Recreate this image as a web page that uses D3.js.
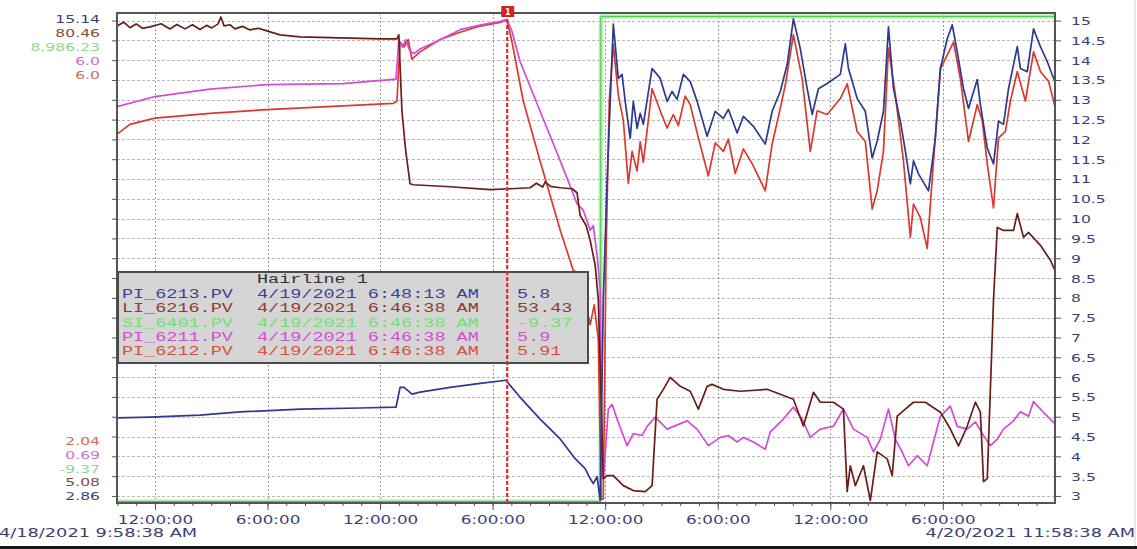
<!DOCTYPE html>
<meta charset="utf-8">
<style>
body { margin: 0; background: #fff; }
svg { display: block; }
.grid line { stroke: #b9b9b9; stroke-dasharray: 3,2; shape-rendering: crispEdges; }
.vgrid line { stroke: #9a9a9a; stroke-dasharray: 2,2; shape-rendering: crispEdges; }
.grid path, .vgrid path { display: none; }
.axis path { display: none; }
.axis line { stroke: #555; }
.axis text { font-family: "DejaVu Sans", sans-serif; fill: #3d4078; }
.trend { fill: none; stroke-width: 1.7; stroke-linejoin: round; }
.box text { font-family: "Liberation Mono", monospace; font-size: 12.5px; }
</style>
<body>
<script src="https://cdn.jsdelivr.net/npm/d3@7"></script>
<script>

// pens shown in the trend
var tags = ["PI_6213.PV", "LI_6216.PV", "SI_6401.PV", "PI_6211.PV", "PI_6212.PV"];
var colors = ["#2d3a8f", "#6b1d17", "#6fdc6f", "#d44bd4", "#da3a2e"];
var textColors = ["#3c3f9a", "#8e3b2e", "#6ee06e", "#cf4fcf", "#d8503f"];
var scaleMin = [2.86, 5.08, -9.37, 0.69, 2.04];
var scaleMax = [15.14, 80.46, 8986.23, 6.0, 6.0];
var minLabels = ["2.86", "5.08", "-9.37", "0.69", "2.04"];
var maxLabels = ["15.14", "80.46", "8,986.23", "6.0", "6.0"];
var leftColors = ["#3d3f7a", "#8b4a40", "#8ed88e", "#d070d0", "#d86a5a"];

// hairline readout
var hairTimes = ["4/19/2021 6:48:13 AM", "4/19/2021 6:46:38 AM", "4/19/2021 6:46:38 AM", "4/19/2021 6:46:38 AM", "4/19/2021 6:46:38 AM"];
var hairValues = ["5.8", "53.43", "-9.37", "5.9", "5.91"];
var hairAt = "2021-04-19 06:46:38";

var startTime = "2021-04-18 09:58:38";
var endTime = "2021-04-20 11:58:38";
var rightTicks = d3.range(3, 15.01, 0.5);

var pi6213 = [["18 09:59",4.97],["18 11:44",4.99],["18 14:24",5.04],["18 16:32",5.12],["18 19:44",5.19],["18 22:56",5.22],["19 00:51",5.24],["19 01:04",5.74],["19 01:17",5.74],["19 01:42",5.57],["19 02:08",5.62],["19 03:44",5.74],["19 05:20",5.84],["19 06:43",5.92],["19 06:56",5.79],["19 07:28",5.49],["19 08:32",4.94],["19 09:36",4.44],["19 10:24",3.94],["19 10:56",3.69],["19 11:12",3.44],["19 11:22",3.31],["19 11:34",3.49],["19 11:44",2.89],["19 11:54",7.95],["19 12:06",10.95],["19 12:26",14.91],["19 12:42",13.54],["19 12:54",13.64],["19 13:04",12.96],["19 13:20",12.03],["19 13:30",12.96],["19 13:42",12.28],["19 13:52",12.66],["19 14:02",12.38],["19 14:30",13.79],["19 14:56",13.54],["19 15:18",12.96],["19 15:34",13.21],["19 15:50",13.01],["19 16:10",13.64],["19 16:32",13.46],["19 16:54",12.96],["19 17:26",12.08],["19 17:52",12.71],["19 18:18",12.53],["19 18:34",12.76],["19 19:02",12.16],["19 19:22",12.58],["19 19:54",12.33],["19 20:32",11.88],["19 20:54",12.71],["19 21:20",13.21],["19 21:42",13.89],["19 22:02",15.04],["19 22:24",14.29],["19 22:46",13.28],["19 23:02",12.63],["19 23:22",13.28],["19 23:50",13.41],["20 00:32",13.64],["20 00:48",14.41],["20 00:58",13.79],["20 01:26",13.03],["20 01:52",12.71],["20 02:14",11.53],["20 02:30",11.96],["20 02:50",12.71],["20 03:06",14.84],["20 03:22",13.28],["20 03:44",12.46],["20 04:00",11.71],["20 04:16",10.88],["20 04:26",11.46],["20 04:42",11.13],["20 05:14",10.70],["20 05:36",12.03],["20 05:52",13.79],["20 06:14",14.54],["20 06:30",14.89],["20 06:46",14.21],["20 07:06",13.28],["20 07:22",12.78],["20 07:50",13.51],["20 08:00",12.88],["20 08:22",11.78],["20 08:42",11.38],["20 08:58",12.46],["20 09:14",12.38],["20 09:30",13.28],["20 09:58",14.34],["20 10:08",13.79],["20 10:30",13.71],["20 10:50",14.79],["20 11:12",14.34],["20 11:34",13.96],["20 11:58",13.46]];

var li6216 = [["18 09:59",78.77],["18 10:20",79.35],["18 10:40",78.50],["18 11:00",79.08],["18 11:20",78.40],["18 11:44",78.62],["18 12:20",79.10],["18 12:48",78.30],["18 13:10",79.00],["18 13:36",78.31],["18 14:00",78.95],["18 14:24",78.20],["18 14:45",78.85],["18 15:02",78.46],["18 15:22",79.08],["18 15:31",80.15],["18 15:41",78.77],["18 16:00",78.95],["18 16:16",78.31],["18 16:40",78.70],["18 17:04",78.15],["18 17:30",78.40],["18 17:58",78.00],["18 18:40",77.38],["18 19:44",77.08],["18 21:52",76.92],["19 00:00",76.77],["19 00:54",76.77],["19 01:00",77.38],["19 01:10",65.54],["19 01:22",59.39],["19 01:36",54.31],["19 01:46",54.16],["19 03:44",53.85],["19 05:52",53.39],["19 06:56",53.54],["19 08:00",53.69],["19 08:20",54.40],["19 08:40",53.80],["19 08:48",54.60],["19 09:05",53.90],["19 09:36",53.69],["19 10:14",53.54],["19 10:30",52.92],["19 10:40",49.39],["19 10:59",47.85],["19 11:12",45.54],["19 11:28",41.69],["19 11:38",36.31],["19 11:47",20.93],["19 11:54",8.62],["19 12:06",9.08],["19 12:26",9.08],["19 12:58",7.54],["19 13:30",6.77],["19 14:08",6.62],["19 14:30",7.54],["19 14:46",20.93],["19 15:06",22.46],["19 15:28",24.31],["19 16:00",22.92],["19 16:32",22.16],["19 16:58",19.39],["19 17:26",22.92],["19 17:42",23.23],["19 18:18",22.46],["19 19:12",22.16],["19 20:38",22.46],["19 21:20",21.69],["19 22:02",20.93],["19 22:34",16.77],["19 23:06",22.00],["19 23:28",20.46],["20 00:10",20.46],["20 00:42",19.39],["20 00:54",6.62],["20 01:04",10.62],["20 01:20",7.54],["20 01:46",10.62],["20 02:08",5.23],["20 02:30",12.77],["20 03:02",11.69],["20 03:18",9.08],["20 03:34",18.31],["20 04:00",19.39],["20 04:26",20.46],["20 05:04",20.46],["20 05:52",18.92],["20 06:24",16.31],["20 06:50",13.69],["20 07:18",16.77],["20 07:44",20.46],["20 08:00",18.92],["20 08:10",8.16],["20 08:22",8.62],["20 08:42",36.31],["20 08:54",47.54],["20 09:14",47.08],["20 09:46",47.08],["20 09:58",49.69],["20 10:18",46.00],["20 10:34",46.77],["20 11:12",44.77],["20 11:44",42.46],["20 11:58",40.92]];

var si6401 = [["18 09:59",-9.37],["19 11:45",-9.37],["19 11:46",8958],["20 11:58",8958]];

var pi6211 = [["18 09:59",5.00],["18 12:00",5.11],["18 14:56",5.19],["18 17:58",5.24],["18 22:02",5.25],["19 00:51",5.30],["19 01:00",5.73],["19 01:12",5.65],["19 01:22",5.73],["19 01:36",5.60],["19 01:49",5.58],["19 02:08",5.63],["19 03:12",5.73],["19 04:16",5.84],["19 05:20",5.89],["19 06:24",5.93],["19 06:46",5.95],["19 07:02",5.82],["19 07:28",5.49],["19 08:32",4.95],["19 09:36",4.41],["19 10:30",3.94],["19 10:50",3.87],["19 11:12",3.65],["19 11:22",3.70],["19 11:34",3.38],["19 11:44",3.00],["19 11:50",0.94],["19 11:57",1.05],["19 12:10",1.70],["19 12:22",1.75],["19 12:38",1.59],["19 13:10",1.30],["19 13:30",1.43],["19 13:58",1.41],["19 14:14",1.51],["19 14:40",1.61],["19 15:18",1.48],["19 16:22",1.57],["19 16:54",1.48],["19 17:30",1.30],["19 18:08",1.39],["19 18:34",1.41],["19 19:02",1.34],["19 19:22",1.39],["19 19:54",1.34],["19 20:32",1.26],["19 20:48",1.45],["19 21:30",1.59],["19 22:02",1.72],["19 22:30",1.59],["19 22:56",1.39],["19 23:28",1.48],["20 00:10",1.51],["20 00:42",1.70],["20 01:14",1.48],["20 01:58",1.39],["20 02:18",1.23],["20 02:40",1.37],["20 03:06",1.70],["20 03:28",1.37],["20 03:50",1.23],["20 04:10",1.08],["20 04:38",1.19],["20 05:10",1.08],["20 05:30",1.34],["20 05:52",1.62],["20 06:24",1.73],["20 06:46",1.51],["20 07:18",1.48],["20 07:44",1.56],["20 08:10",1.41],["20 08:32",1.30],["20 08:54",1.37],["20 09:14",1.48],["20 09:46",1.57],["20 10:08",1.67],["20 10:34",1.62],["20 10:50",1.78],["20 11:28",1.64],["20 11:58",1.54]];

var pi6212 = [["18 09:59",5.03],["18 10:40",5.11],["18 12:00",5.16],["18 14:56",5.20],["18 17:58",5.23],["18 22:02",5.26],["19 00:42",5.28],["19 00:54",5.30],["19 01:04",5.78],["19 01:17",5.74],["19 01:30",5.80],["19 01:42",5.64],["19 02:08",5.70],["19 03:12",5.80],["19 04:16",5.86],["19 05:20",5.91],["19 06:24",5.94],["19 06:46",5.96],["19 07:02",5.78],["19 07:38",5.30],["19 08:32",4.81],["19 09:36",4.25],["19 10:18",3.92],["19 10:34",3.90],["19 10:50",3.68],["19 11:02",3.60],["19 11:12",3.48],["19 11:25",3.64],["19 11:38",3.36],["19 11:47",2.06],["19 11:54",2.06],["19 12:03",4.08],["19 12:13",5.30],["19 12:26",5.76],["19 12:42",5.35],["19 12:58",5.14],["19 13:14",4.63],["19 13:26",4.89],["19 13:42",4.73],["19 13:52",4.97],["19 14:02",4.80],["19 14:30",5.40],["19 14:56",5.22],["19 15:18",5.08],["19 15:38",5.19],["19 15:54",5.10],["19 16:16",5.34],["19 16:32",5.27],["19 16:58",5.00],["19 17:30",4.69],["19 17:52",4.96],["19 18:18",4.89],["19 18:34",4.99],["19 18:56",4.71],["19 19:22",4.91],["19 19:50",4.79],["19 20:32",4.57],["19 20:54",4.95],["19 21:20",5.24],["19 21:36",5.43],["19 22:02",5.84],["19 22:30",5.48],["19 22:56",4.89],["19 23:18",5.22],["19 23:50",5.19],["20 00:32",5.32],["20 00:54",5.44],["20 01:26",5.05],["20 01:52",4.97],["20 02:14",4.42],["20 02:30",4.57],["20 02:50",4.89],["20 03:06",5.73],["20 03:28",5.35],["20 03:54",4.81],["20 04:16",4.19],["20 04:26",4.46],["20 04:48",4.35],["20 05:10",4.10],["20 05:30",4.81],["20 05:52",5.56],["20 06:34",5.78],["20 06:56",5.48],["20 07:22",4.97],["20 07:50",5.27],["20 08:06",5.14],["20 08:22",4.79],["20 08:42",4.43],["20 08:58",5.00],["20 09:20",5.05],["20 09:36",5.30],["20 09:58",5.54],["20 10:24",5.30],["20 10:50",5.70],["20 11:12",5.54],["20 11:38",5.46],["20 11:58",5.26]];

var seriesData = [pi6213, li6216, si6401, pi6211, pi6212];

var plot = {left: 117, right: 1055, top: 13, bottom: 503};

var parseFull = d3.timeParse("%Y-%m-%d %H:%M:%S");
var parseShort = d3.timeParse("%Y-%m-%d %H:%M");
function when(s) { return parseShort("2021-04-" + s); }

var x = d3.scaleTime()
    .domain([parseFull(startTime), parseFull(endTime)])
    .range([plot.left, plot.right]);

var yScales = tags.map(function(t, i) {
  return d3.scaleLinear().domain([scaleMin[i], scaleMax[i]]).range([501.5, 15]);
});
var yR = yScales[0];

var svg = d3.select("body").append("svg")
    .attr("width", 1137)
    .attr("height", 549);

// stretched text, the source screenshot is wide
function label(px, py, str, color, size, anchor, family) {
  return svg.append("text")
    .attr("transform", "translate(" + px + "," + py + ") scale(1.42,1)")
    .attr("text-anchor", anchor || "start")
    .style("font-family", family || "'DejaVu Sans', sans-serif")
    .style("font-size", size + "px")
    .style("fill", color)
    .text(str);
}

svg.append("defs").append("clipPath").attr("id", "clip")
  .append("rect")
    .attr("x", plot.left).attr("y", plot.top)
    .attr("width", plot.right - plot.left).attr("height", plot.bottom - plot.top);

// grid
svg.append("g")
    .attr("class", "grid")
    .attr("transform", "translate(" + plot.left + ",0)")
    .call(d3.axisLeft(yR).tickValues(rightTicks).tickSize(-(plot.right - plot.left)).tickFormat(""));

svg.append("g")
    .attr("class", "vgrid")
    .attr("transform", "translate(0," + plot.bottom + ")")
    .call(d3.axisBottom(x).ticks(d3.timeHour.every(6)).tickSize(-(plot.bottom - plot.top)).tickFormat(""));

// pens
var line = function(i) {
  return d3.line()
    .x(function(d) { return x(when(d[0])); })
    .y(function(d) { return yScales[i](d[1]); });
};

var pens = svg.append("g").attr("clip-path", "url(#clip)");

pens.append("path")
    .datum(si6401)
    .attr("class", "trend")
    .attr("d", line(2))
    .style("stroke", "#a8efa8")
    .style("stroke-width", 4);
pens.append("path")
    .datum(si6401)
    .attr("class", "trend")
    .attr("d", line(2))
    .style("stroke", "#52c852")
    .style("stroke-width", 1);

[4, 3, 1, 0].forEach(function(i) {
  pens.append("path")
      .datum(seriesData[i])
      .attr("class", "trend")
      .attr("d", line(i))
      .style("stroke", colors[i]);
});

// frame
svg.append("rect")
    .attr("x", plot.left).attr("y", plot.top)
    .attr("width", plot.right - plot.left).attr("height", plot.bottom - plot.top)
    .attr("fill", "none")
    .attr("stroke", "#545454")
    .attr("stroke-width", 2);

// right axis (PI_6213 scale)
var rAxis = svg.append("g")
    .attr("class", "axis")
    .attr("transform", "translate(" + plot.right + ",0)")
    .call(d3.axisRight(yR).tickValues(rightTicks).tickSize(6).tickFormat(d3.format("")));
rAxis.selectAll("text")
    .attr("x", 0)
    .attr("dy", "0.36em")
    .attr("transform", "translate(16,0) scale(1.42,1)")
    .style("font-size", "11px");

svg.append("g")
    .attr("class", "axis")
    .attr("transform", "translate(" + plot.left + ",0)")
    .call(d3.axisLeft(yR).tickValues(rightTicks).tickSize(5).tickFormat(""));

// time axis
svg.append("g")
    .attr("class", "axis")
    .attr("transform", "translate(0," + plot.bottom + ")")
    .call(d3.axisBottom(x).ticks(d3.timeHour.every(1)).tickSize(3).tickFormat(""));

var bAxis = svg.append("g")
    .attr("class", "axis")
    .attr("transform", "translate(0," + plot.bottom + ")")
    .call(d3.axisBottom(x).ticks(d3.timeHour.every(6)).tickSize(7).tickFormat(d3.timeFormat("%-I:%M:%S")));
bAxis.selectAll("text")
    .attr("y", 0)
    .attr("dy", 0)
    .attr("transform", "translate(0,21) scale(1.4,1)")
    .style("font-size", "12px");

// pen scale labels, left side
var topOrder = [0, 1, 2, 3, 4];
topOrder.forEach(function(i, k) {
  label(100, 23 + k * 14, maxLabels[i], leftColors[i], 11, "end");
});
var botOrder = [4, 3, 2, 1, 0];
botOrder.forEach(function(i, k) {
  label(100, 445 + k * 13.8, minLabels[i], leftColors[i], 11, "end");
});

// start / end stamps
label(-1, 537, "4/18/2021 9:58:38 AM", "#3d4070", 12.5, "start");
label(1135, 537, "4/20/2021 11:58:38 AM", "#3d4070", 12.5, "end");

// hairline readout box
var box = svg.append("g").attr("class", "box");
box.append("rect")
    .attr("x", 118).attr("y", 272)
    .attr("width", 470).attr("height", 91)
    .attr("fill", "#d5d5d5")
    .attr("stroke", "#4a4a4a")
    .attr("stroke-width", 2);

function boxText(px, py, str, color) {
  box.append("text")
    .attr("transform", "translate(" + px + "," + py + ") scale(1.48,1)")
    .style("fill", color)
    .text(str);
}
boxText(257, 283, "Hairline 1", "#333");
tags.forEach(function(t, i) {
  var py = 298 + i * 14.3;
  boxText(122, py, t, textColors[i]);
  boxText(257, py, hairTimes[i], textColors[i]);
  boxText(517, py, hairValues[i], textColors[i]);
});

// hairline
var hx = x(parseFull(hairAt));
svg.append("line")
    .attr("x1", hx).attr("x2", hx)
    .attr("y1", plot.top).attr("y2", plot.bottom)
    .attr("stroke", "#e02a2a")
    .attr("stroke-width", 2.2)
    .attr("stroke-dasharray", "4,2");
svg.append("rect")
    .attr("x", hx - 6).attr("y", 6)
    .attr("width", 13).attr("height", 11)
    .attr("fill", "#d42222");
svg.append("text")
    .attr("x", hx + 0.5).attr("y", 15)
    .attr("text-anchor", "middle")
    .style("font-family", "'DejaVu Sans', sans-serif")
    .style("font-size", "8px")
    .style("font-weight", "bold")
    .style("fill", "#fff")
    .text("1");

// window edges
svg.append("line")
    .attr("x1", 1135).attr("x2", 1135).attr("y1", 0).attr("y2", 546)
    .attr("stroke", "#cfcfcf");
svg.append("rect")
    .attr("x", 0).attr("y", 546)
    .attr("width", 1137).attr("height", 3)
    .attr("fill", "#1a1a1a");

</script>
